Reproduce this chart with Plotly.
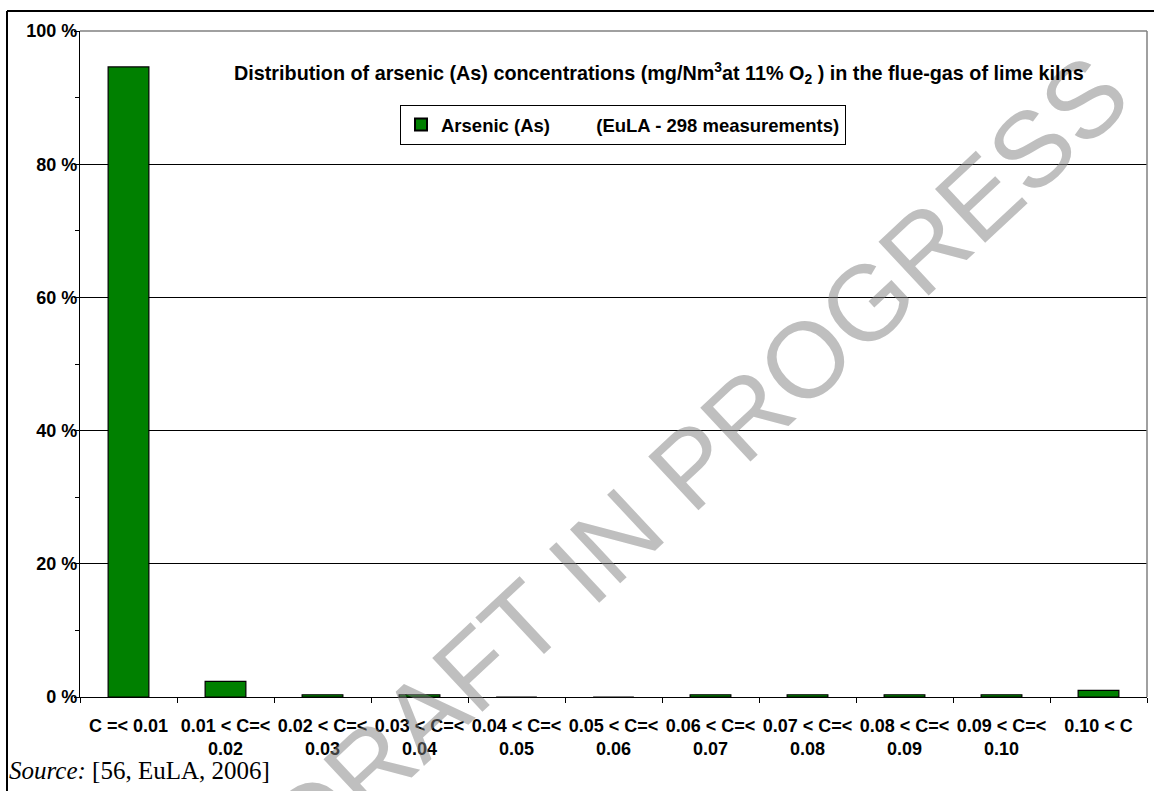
import plotly.graph_objects as go

# ---------------- data ----------------
categories = ["C =< 0.01", "0.01 < C=< 0.02", "0.02 < C=< 0.03", "0.03 < C=< 0.04",
              "0.04 < C=< 0.05", "0.05 < C=< 0.06", "0.06 < C=< 0.07", "0.07 < C=< 0.08",
              "0.08 < C=< 0.09", "0.09 < C=< 0.10", "0.10 < C"]
label_line1 = ["C =< 0.01", "0.01 < C=<", "0.02 < C=<", "0.03 < C=<", "0.04 < C=<",
               "0.05 < C=<", "0.06 < C=<", "0.07 < C=<", "0.08 < C=<", "0.09 < C=<", "0.10 < C"]
label_line2 = ["", "0.02", "0.03", "0.04", "0.05", "0.06", "0.07", "0.08", "0.09", "0.10", ""]
share_pct = [94.6, 2.35, 0.34, 0.34, 0.0, 0.0, 0.34, 0.34, 0.34, 0.34, 1.0]
y_tick_vals = [0, 20, 40, 60, 80, 100]
y_tick_text = ["0 %", "20 %", "40 %", "60 %", "80 %", "100 %"]
series_name = ("Arsenic (As)&nbsp;&nbsp;&nbsp;&nbsp;&nbsp;&nbsp;&nbsp;&nbsp; "
               "(EuLA - 298 measurements)")
title_text = ("Distribution of arsenic (As) concentrations (mg/Nm<sup>3</sup>at 11% "
              "O<sub>2</sub> ) in the flue-gas of lime kilns")
source_text = "<i>Source:</i> [56, EuLA, 2006]"
watermark = "DRAFT IN PROGRESS"

x_tick_text = [a + ("<br>" + b if b else "") for a, b in zip(label_line1, label_line2)]

# ---------------- geometry helpers (plot area in pixels) ----------------
W, H = 1154, 791
L, R, T, B = 80, 1147, 31, 697


def px(x):
    return (x - L) / (R - L)


def py(y):
    return (B - y) / (B - T)


FONT = "Liberation Sans, Arial, Helvetica, sans-serif"

fig = go.Figure()
fig.add_trace(go.Bar(
    x=categories, y=share_pct, name=series_name,
    marker=dict(color="#008000", line=dict(color="#000000", width=1.2)),
    showlegend=True,
))

fig.update_layout(
    width=W, height=H,
    margin=dict(l=L, r=W - R, t=T, b=H - B, pad=0, autoexpand=False),
    paper_bgcolor="white", plot_bgcolor="white",
    bargap=0.58,
    showlegend=True,
    legend=dict(
        x=px(400), y=py(105), xanchor="left", yanchor="top",
        bgcolor="white", bordercolor="#000000", borderwidth=1,
        font=dict(family=FONT, size=18.5, color="black", weight="bold"),
        itemsizing="constant", itemwidth=30,
    ),
    xaxis=dict(
        type="category", categoryorder="array", categoryarray=categories,
        tickmode="array", tickvals=categories, ticktext=x_tick_text,
        tickson="boundaries", ticks="outside", ticklen=5, tickcolor="black",
        tickangle=0, showline=True, linecolor="black", linewidth=1.2,
        showgrid=False, zeroline=False, automargin=False,
        tickfont=dict(family=FONT, size=18, color="black", weight="bold"),
        ticklabelstandoff=12,
        range=[-0.5, 10.5],
    ),
    yaxis=dict(
        range=[0, 100], tickmode="array", tickvals=y_tick_vals, ticktext=y_tick_text,
        showgrid=True, gridcolor="black", gridwidth=1,
        zeroline=False, showline=True, linecolor="black", linewidth=1.2,
        ticks="outside", ticklen=5, tickcolor="black", automargin=False,
        minor=dict(dtick=10, ticks="outside", ticklen=4, tickcolor="black", showgrid=False),
        tickfont=dict(family=FONT, size=18, color="black", weight="bold"),
        ticklabelstandoff=-7,
    ),
    shapes=[
        # plot-area frame (top & right) in gray
        dict(type="line", xref="paper", yref="paper", x0=0, x1=1, y0=1, y1=1,
             line=dict(color="#808080", width=1.5)),
        dict(type="line", xref="paper", yref="paper", x0=1, x1=1, y0=0, y1=1,
             line=dict(color="#808080", width=1.5)),
        # outer chart border (top & left)
        dict(type="line", xref="paper", yref="paper", x0=px(7), x1=px(1170),
             y0=py(11), y1=py(11), line=dict(color="black", width=2)),
        dict(type="line", xref="paper", yref="paper", x0=px(7), x1=px(7),
             y0=py(11), y1=py(820), line=dict(color="black", width=2)),
    ],
    annotations=[
        # watermark first so that the title is drawn above it
        dict(text=watermark, xref="paper", yref="paper", x=px(698), y=py(460),
             xanchor="center", yanchor="middle", showarrow=False, textangle=-43,
             font=dict(family=FONT, size=107, color="rgba(128,128,128,0.5)")),
        dict(text=title_text, xref="paper", yref="paper", x=px(659), y=py(73),
             xanchor="center", yanchor="middle", showarrow=False,
             font=dict(family=FONT, size=19.8, color="black", weight="bold")),
        dict(text=source_text, xref="paper", yref="paper", x=px(7), y=py(770),
             xanchor="left", yanchor="middle", showarrow=False,
             font=dict(family="Liberation Serif, Times New Roman, serif", size=25,
                       color="black")),
    ],
)

fig.write_html(
    "out.html",
    config={"displayModeBar": False},
    post_script="document.body.style.margin='0px';document.body.style.padding='0px';",
)
